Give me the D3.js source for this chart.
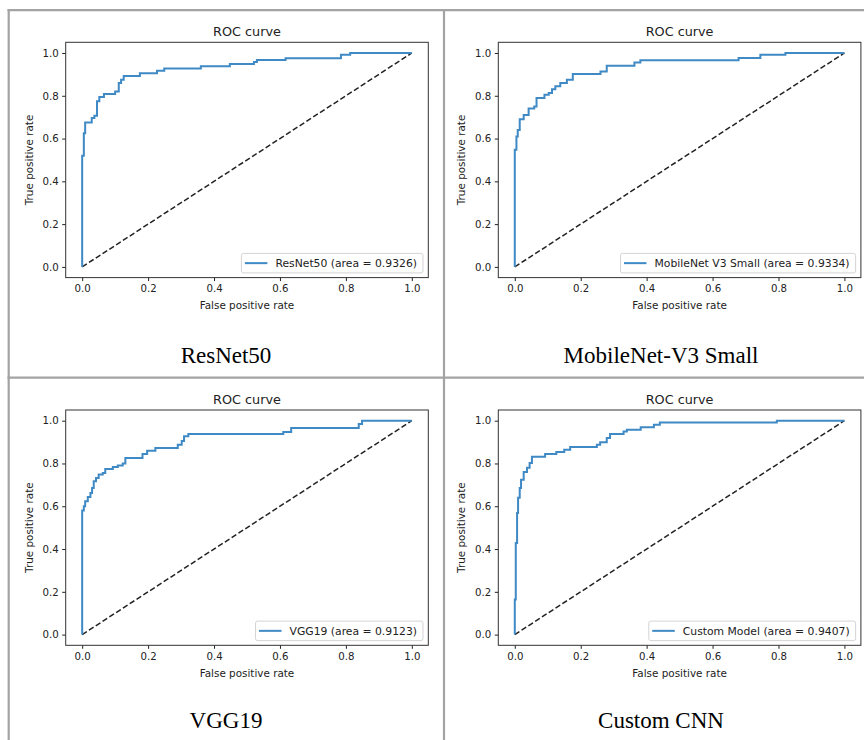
<!DOCTYPE html>
<html>
<head>
<meta charset="utf-8">
<script src="https://cdn.jsdelivr.net/npm/d3@7"></script>
<style>
  html, body { margin: 0; padding: 0; background: #fff; }
  svg { display: block; }
  .tick text { font-family: "DejaVu Sans", sans-serif; font-size: 10.2px; fill: #222; }
  .tick line { stroke: #222; }
  .domain { display: none; }
</style>
</head>
<body>
<svg id="chart" width="864" height="740"></svg>
<script>
// ---------- data ----------
const models   = ["ResNet50", "MobileNet V3 Small", "VGG19", "Custom Model"];
const aucs     = ["0.9326", "0.9334", "0.9123", "0.9407"];
const captions = ["ResNet50", "MobileNet-V3 Small", "VGG19", "Custom CNN"];

const fprResNet = [0, 0, 0.005, 0.009, 0.029, 0.037, 0.045, 0.052, 0.066, 0.100, 0.111, 0.118, 0.126, 0.175, 0.227, 0.249, 0.360, 0.448, 0.521, 0.530, 0.617, 0.785, 0.813, 1];
const tprResNet = [0, 0.52, 0.625, 0.675, 0.696, 0.707, 0.774, 0.794, 0.808, 0.820, 0.860, 0.875, 0.893, 0.905, 0.917, 0.927, 0.938, 0.949, 0.958, 0.967, 0.975, 0.992, 1.0, 1.0];

const fprMobile = [0, 0, 0.005, 0.009, 0.015, 0.027, 0.042, 0.059, 0.066, 0.090, 0.103, 0.113, 0.123, 0.138, 0.158, 0.176, 0.260, 0.279, 0.363, 0.381, 0.679, 0.745, 0.821, 1];
const tprMobile = [0, 0.548, 0.61, 0.64, 0.69, 0.71, 0.74, 0.75, 0.79, 0.805, 0.813, 0.83, 0.844, 0.86, 0.875, 0.902, 0.914, 0.94, 0.956, 0.966, 0.977, 0.992, 1.0, 1.0];

const fprVGG = [0, 0, 0.005, 0.009, 0.017, 0.025, 0.030, 0.035, 0.042, 0.050, 0.0625, 0.070, 0.093, 0.108, 0.123, 0.131, 0.183, 0.197, 0.222, 0.290, 0.302, 0.309, 0.322, 0.610, 0.634, 0.839, 0.849, 1];
const tprVGG = [0, 0.58, 0.60, 0.623, 0.643, 0.662, 0.685, 0.717, 0.732, 0.748, 0.755, 0.774, 0.784, 0.79, 0.80, 0.826, 0.844, 0.86, 0.872, 0.888, 0.905, 0.927, 0.938, 0.947, 0.966, 0.984, 1.0, 1.0];

const fprCustom = [0, 0, 0.003, 0.007, 0.010, 0.015, 0.019, 0.027, 0.037, 0.045, 0.052, 0.092, 0.126, 0.150, 0.168, 0.249, 0.259, 0.279, 0.289, 0.330, 0.340, 0.382, 0.422, 0.440, 0.795, 1];
const tprCustom = [0, 0.164, 0.428, 0.569, 0.64, 0.685, 0.724, 0.76, 0.78, 0.802, 0.831, 0.844, 0.854, 0.864, 0.877, 0.888, 0.899, 0.919, 0.938, 0.95, 0.958, 0.969, 0.981, 0.992, 1.0, 1.0];

const fprs = [fprResNet, fprMobile, fprVGG, fprCustom];
const tprs = [tprResNet, tprMobile, tprVGG, tprCustom];
const tickValues = [0, 0.2, 0.4, 0.6, 0.8, 1.0];
const chanceLine = [0, 1];

// ---------- layout ----------
const svg = d3.select("#chart");
const frameLeft = [65.7, 498.3];
const frameTop  = [42.3, 410];
const frameW = 362.6, frameH = 235.3;
const captionX = [226, 661];
const captionY = [362.7, 728.3];
const blue = "#3f89c5";
const borderColor = "#a3a3a3";

// table borders
const gb = svg.append("g").attr("stroke", borderColor).attr("stroke-width", 2.2);
gb.append("line").attr("x1", 7.5).attr("x2", 864).attr("y1", 10.2).attr("y2", 10.2);
gb.append("line").attr("x1", 7.5).attr("x2", 864).attr("y1", 377.6).attr("y2", 377.6);
gb.append("line").attr("x1", 8.7).attr("x2", 8.7).attr("y1", 9).attr("y2", 740);
gb.append("line").attr("x1", 444).attr("x2", 444).attr("y1", 9).attr("y2", 740);

const x = d3.scaleLinear().domain([-0.05, 1.05]).range([0, frameW]);
const y = d3.scaleLinear().domain([-0.05, 1.05]).range([frameH, 0]);
const fmt = d3.format(".1f");

models.forEach((m, i) => {
  const col = i % 2, row = Math.floor(i / 2);
  const g = svg.append("g").attr("transform", `translate(${frameLeft[col]},${frameTop[row]})`);

  // axes
  g.append("g").attr("transform", `translate(0,${frameH})`)
    .call(d3.axisBottom(x).tickValues(tickValues).tickFormat(fmt).tickSize(3.5).tickPadding(3.5));
  g.append("g")
    .call(d3.axisLeft(y).tickValues(tickValues).tickFormat(fmt).tickSize(3.5).tickPadding(3.5));

  // chance diagonal
  g.append("path")
    .datum(chanceLine)
    .attr("d", d3.line().x(d => x(d)).y(d => y(d)))
    .attr("fill", "none").attr("stroke", "#222").attr("stroke-width", 1.5)
    .attr("stroke-dasharray", "5.5,2.6");

  // ROC curve
  const pts = fprs[i].map((f, k) => [f, tprs[i][k]]);
  g.append("path")
    .datum(pts)
    .attr("d", d3.line().x(d => x(d[0])).y(d => y(d[1])).curve(d3.curveStepAfter))
    .attr("fill", "none").attr("stroke", blue).attr("stroke-width", 2)
    .attr("stroke-linejoin", "miter");

  // frame
  g.append("rect").attr("x", 0).attr("y", 0).attr("width", frameW).attr("height", frameH)
    .attr("fill", "none").attr("stroke", "#333").attr("stroke-width", 1);

  // title
  g.append("text").attr("x", frameW / 2).attr("y", -6)
    .attr("text-anchor", "middle")
    .style("font-family", "DejaVu Sans, sans-serif").style("font-size", "12.8px").attr("fill", "#222")
    .text("ROC curve");

  // axis labels
  g.append("text").attr("x", frameW / 2).attr("y", frameH + 31.5)
    .attr("text-anchor", "middle")
    .style("font-family", "DejaVu Sans, sans-serif").style("font-size", "10.4px").attr("fill", "#222")
    .text("False positive rate");
  g.append("text")
    .attr("transform", `translate(-33,${frameH / 2}) rotate(-90)`)
    .attr("text-anchor", "middle")
    .style("font-family", "DejaVu Sans, sans-serif").style("font-size", "10.4px").attr("fill", "#222")
    .text("True positive rate");

  // legend
  const lg = g.append("g");
  const txt = lg.append("text")
    .style("font-family", "DejaVu Sans, sans-serif").style("font-size", "10.8px").attr("fill", "#222")
    .text(`${m} (area = ${aucs[i]})`);
  const tw = txt.node().getComputedTextLength();
  const boxW = 3.5 + 22.5 + 8 + tw + 6, boxH = 19.5;
  const bx = frameW - 5.3 - boxW, by = frameH - 4.7 - boxH;
  lg.insert("rect", "text").attr("x", bx).attr("y", by).attr("width", boxW).attr("height", boxH)
    .attr("rx", 2).attr("fill", "#fff").attr("fill-opacity", 0.85).attr("stroke", "#d4d4d4").attr("stroke-width", 1);
  lg.append("line").attr("x1", bx + 3.5).attr("x2", bx + 26).attr("y1", by + boxH / 2).attr("y2", by + boxH / 2)
    .attr("stroke", blue).attr("stroke-width", 2);
  txt.attr("x", bx + 34).attr("y", by + boxH / 2 + 3.8);

  // caption
  svg.append("text").attr("x", captionX[col]).attr("y", captionY[row])
    .attr("text-anchor", "middle")
    .style("font-family", "Liberation Serif, Times New Roman, serif").style("font-size", "23px").attr("fill", "#000")
    .text(captions[i]);
});
</script>
</body>
</html>
